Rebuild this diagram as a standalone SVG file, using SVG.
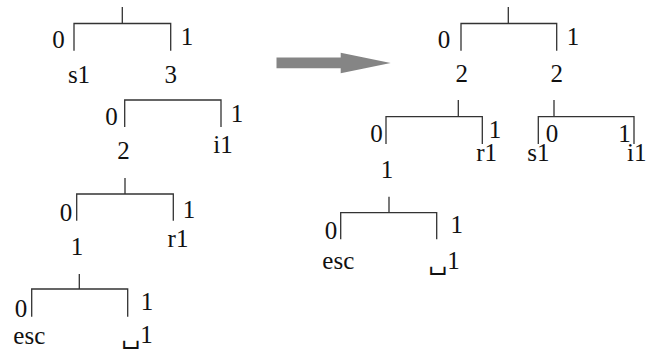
<svg xmlns="http://www.w3.org/2000/svg" width="659" height="351" viewBox="0 0 659 351">
<style>
text{font-size:25px;fill:#111;text-anchor:middle}
.br{fill:none;stroke:#333;stroke-width:1.3}
</style>
<rect width="659" height="351" fill="#fff"/>
<g id="connectors">
<path class="br" d="M122.3,7V23.5M74,50.7V23.5H170.7V50.7"/>
<path class="br" d="M124.7,127V100H221V127"/>
<path class="br" d="M125,178V194M76.7,220.7V194H173.3V220.7"/>
<path class="br" d="M79.3,274V289M31.7,316.7V289H127.7V316.7"/>
<path class="br" d="M508.3,7V23.5M461,50.7V23.5H556.7V50.7"/>
<path class="br" d="M458.3,100V116.7M386,144V116.7H482.3V144"/>
<path class="br" d="M554,100V116.7M538.3,144V116.7H634V144"/>
<path class="br" d="M389,196.7V212.7M340.7,239.3V212.7H436.7V239.3"/>
</g>
<g id="arrow">
<polygon points="276.5,57.5 340.7,57.5 340.7,52.7 390.7,63 340.7,73.3 340.7,68.3 276.5,68.3" fill="#858585"/>
</g>
<g font-family="'Liberation Serif', 'DejaVu Serif', serif">
<g id="left-tree">
<g id="nA"><text x="58.5" y="48">0</text><text x="187" y="45">1</text><text x="79" y="83">s1</text><text x="170.7" y="83">3</text></g>
<g id="nB"><text x="111.5" y="125">0</text><text x="237" y="122">1</text><text x="123.5" y="159">2</text><text x="223" y="153">i1</text></g>
<g id="nC"><text x="66" y="220.7">0</text><text x="189" y="217.7">1</text><text x="77" y="255">1</text><text x="178" y="246.7">r1</text></g>
<g id="nD"><text x="21" y="316.7">0</text><text x="147" y="310">1</text><text x="29.3" y="344">esc</text><text x="137" y="343">␣1</text></g>
</g>
<g id="right-tree">
<g id="nE"><text x="444" y="48">0</text><text x="573" y="45">1</text><text x="461.7" y="82">2</text><text x="556.7" y="82">2</text></g>
<g id="nF"><text x="376.5" y="142">0</text><text x="495" y="138">1</text><text x="387" y="178">1</text><text x="486.7" y="161">r1</text></g>
<g id="nG"><text x="552" y="142">0</text><text x="624.5" y="142">1</text><text x="538.3" y="161">s1</text><text x="636.7" y="161">i1</text></g>
<g id="nH"><text x="331" y="239">0</text><text x="456.7" y="233">1</text><text x="338.3" y="269">esc</text><text x="444" y="269">␣1</text></g>
</g>
</g>
</svg>
